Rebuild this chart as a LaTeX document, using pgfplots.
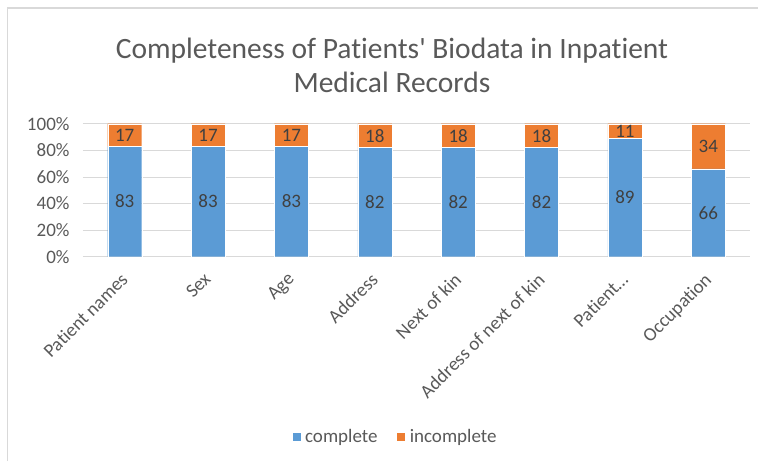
\documentclass[border=0pt]{standalone}
\usepackage{fontspec}
\setmainfont{Carlito}[Ligatures=CommonOff]
\usepackage{pgfplots}
\pgfplotsset{compat=1.18}
\definecolor{cblue}{HTML}{5B9BD5}
\definecolor{corange}{HTML}{ED7D31}
\definecolor{txtgray}{HTML}{595959}
\definecolor{gridgray}{HTML}{D9D9D9}
\definecolor{lblgray}{HTML}{404040}
\pgfplotstableread{
x y label
0 41.5 83
0 91.5 17
1 41.5 83
1 91.5 17
2 41.5 83
2 91.5 17
3 41.0 82
3 91.0 18
4 41.0 82
4 91.0 18
5 41.0 82
5 91.0 18
6 44.5 89
6 94.5 11
7 33.0 66
7 83.0 34
}\labeltable
\begin{document}
\begin{tikzpicture}
\useasboundingbox (0pt,0pt) rectangle (758pt,461pt);
\draw[gridgray, line width=1.5pt] (7.5pt,0pt) -- (7.5pt,453pt) -- (758pt,453pt);
\node[txtgray, font=\fontsize{29.5}{34}\selectfont, anchor=base] at (392pt,402pt) {Completeness of Patients\textquotesingle\ Biodata in Inpatient};
\node[txtgray, font=\fontsize{29.5}{34}\selectfont, anchor=base] at (392pt,368pt) {Medical Records};
\begin{axis}[
  at={(83pt,204.3pt)}, anchor=south west, scale only axis,
  width=667pt, height=133pt,
  ybar stacked, bar width=34pt,
  xmin=-0.5, xmax=7.5, ymin=0, ymax=100,
  xtick={0,1,2,3,4,5,6,7},
  xticklabels={Patient names, Sex, Age, Address, Next of kin, Address of next of kin, {Patient\ldots}, Occupation},
  ytick={0,20,40,60,80,100},
  yticklabels={0\%,20\%,40\%,60\%,80\%,100\%},
  ymajorgrids, major grid style={gridgray, line width=0.8pt},
  axis line style={draw=none}, tick style={draw=none},
  /pgf/number format/assume math mode=true,
  tick label style={txtgray, font=\fontsize{19}{21}\selectfont},
  xticklabel style={xshift=-5pt, yshift=-10pt, rotate=45, anchor=north east},
  yticklabel style={xshift=-10pt},
  legend style={at={(0.468,-1.354)}, anchor=center, legend columns=2, draw=none, font=\fontsize{19}{21}\selectfont, text=txtgray, nodes={inner sep=2pt}, /tikz/every even column/.append style={column sep=17pt}},
  legend image code/.code={\fill[#1] (0pt,-4.5pt) rectangle (9pt,4.5pt); \path (11pt,0pt);},
]
\addplot[fill=cblue, draw=white, line width=0.3pt] coordinates {(0,83) (1,83) (2,83) (3,82) (4,82) (5,82) (6,89) (7,66)};
\addplot[fill=corange, draw=white, line width=0.3pt] coordinates {(0,17) (1,17) (2,17) (3,18) (4,18) (5,18) (6,11) (7,34)};
\legend{complete, incomplete}
\end{axis}
\begin{axis}[
  at={(83pt,204.3pt)}, anchor=south west, scale only axis,
  width=667pt, height=133pt,
  xmin=-0.5, xmax=7.5, ymin=0, ymax=100,
  hide axis,
]
\addplot[draw=none, nodes near coords, point meta=explicit symbolic,
  every node near coord/.style={anchor=center, lblgray, font=\fontsize{19}{21}\selectfont}]
  table[x=x, y=y, meta=label] {\labeltable};
\end{axis}
\end{tikzpicture}
\end{document}
